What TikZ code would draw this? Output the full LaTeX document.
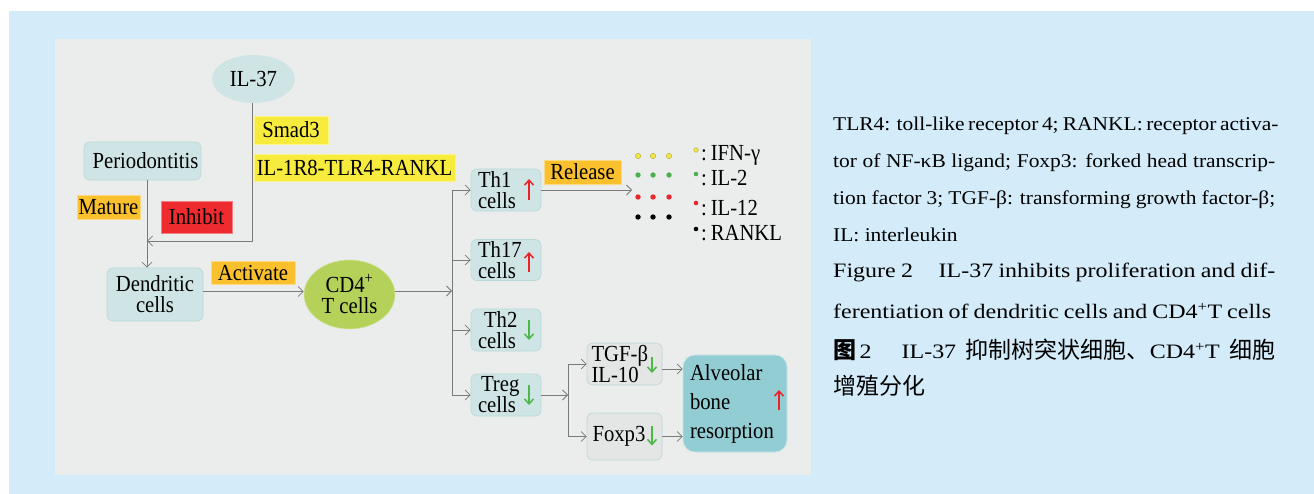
\documentclass[tikz,border=0pt]{standalone}
\usepackage{fontspec}
\setmainfont{Liberation Serif}
\newfontfamily\diag[FakeStretch=0.9]{Liberation Serif}
\newfontfamily\wide[FakeStretch=1.1]{Liberation Serif}
\newfontfamily\wider[FakeStretch=1.17]{Liberation Serif}
\newfontfamily\cjk{Noto Sans CJK SC}
\usetikzlibrary{arrows.meta,calc,shapes.geometric}
\definecolor{bgblue}{HTML}{D4ECF9}
\definecolor{panel}{HTML}{EBECEC}
\definecolor{cellfill}{HTML}{CFE5E5}
\definecolor{cellline}{HTML}{B9D8D8}
\definecolor{ylw}{HTML}{F7EC3E}
\definecolor{orng}{HTML}{FBC02D}
\definecolor{inhred}{HTML}{EE2B2F}
\definecolor{cdgreen}{HTML}{B4D15A}
\definecolor{alv}{HTML}{92CDD3}
\definecolor{greybox}{HTML}{E4E5E5}
\definecolor{upred}{HTML}{EB2227}
\definecolor{dngreen}{HTML}{4CB848}
\definecolor{connc}{HTML}{7A7A7A}
\definecolor{dotyel}{HTML}{EDE54A}
\definecolor{dotyelline}{HTML}{BDB640}
\definecolor{dotgrn}{HTML}{4CB050}
\definecolor{dotred}{HTML}{E8262B}
\tikzset{
  dfont/.style={font=\diag\fontsize{23}{21}\selectfont},
  cell/.style={dfont, draw=cellline, fill=cellfill, rounded corners=6pt, line width=0.6pt, inner sep=0pt},
  greycell/.style={cell, fill=greybox, draw=cellline},
  tag/.style={dfont, inner sep=0pt, line width=0.8pt},
  connline/.style={draw=connc, line width=0.8pt},
  arr/.style={connline, -{Straight Barb[length=5pt,width=10pt]}},
  uparr/.style={draw=upred, line width=1.7pt, -{Straight Barb[length=5pt,width=9pt,line width=1.5pt]}},
  dnarr/.style={draw=dngreen, line width=1.7pt, -{Straight Barb[length=5pt,width=9pt,line width=1.5pt]}},
  notefont/.style={font=\wide\fontsize{19.5}{20}\selectfont, inner sep=0pt, anchor=west},
  capfont/.style={font=\wider\fontsize{20.5}{21}\selectfont, inner sep=0pt, anchor=west}
}
\begin{document}
\begin{tikzpicture}[x=1pt,y=-1pt]
\fill[white] (0,0) rectangle (1314,494);
\useasboundingbox (0,0) rectangle (1314,494);
\fill[bgblue] (9,11) rectangle (1314,494);
\fill[panel] (55,39) rectangle (811,475);

% nodes
\node[ellipse, fill=cellfill, minimum width=83pt, minimum height=48pt, inner sep=0pt, dfont] (il37) at (253.5,79) {IL-37};
\node[tag, fill=ylw, draw=ylw!60!white, minimum width=74pt, minimum height=28pt] (smad) at (291,130) {Smad3};
\node[tag, fill=ylw, draw=ylw!60!white, minimum width=201pt, minimum height=27pt] (il1r8) at (354.5,167.5) {IL-1R8-TLR4-RANKL};
\node[cell, minimum width=117pt, minimum height=38pt] (perio) at (142.5,161) {\hspace{6pt}Periodontitis};
\node[tag, fill=orng, draw=orng!60!white, minimum width=63pt, minimum height=24pt] (mature) at (108.5,207) {Mature};
\node[tag, fill=inhred, draw=inhred!60!white, minimum width=71pt, minimum height=32pt] (inhibit) at (196.5,217) {Inhibit};
\node[cell, minimum width=96pt, minimum height=53pt, align=center] (dend) at (155,294.5) {Dendritic\\cells};
\node[tag, fill=orng, draw=orng!60!white, minimum width=84pt, minimum height=23pt] (activate) at (253,272.5) {Activate};
\node[ellipse, fill=cdgreen, draw=cdgreen!60!white, line width=0.6pt, minimum width=91pt, minimum height=69pt, inner sep=0pt, dfont, align=center] (cd4) at (349.5,294.5) {CD4\textsuperscript{+}\\T cells};

\node[cell, minimum width=70pt, minimum height=42pt, text width=56pt, align=left] (th1) at (506,190) {Th1\\cells};
\node[cell, minimum width=70pt, minimum height=41pt, text width=56pt, align=left] (th17) at (506,260) {Th17\\cells};
\node[cell, minimum width=70pt, minimum height=42pt, text width=56pt, align=left] (th2) at (506,330) {\hspace{6pt}Th2\\cells};
\node[cell, minimum width=70pt, minimum height=42pt, text width=56pt, align=left] (treg) at (506,395) {\hspace{3pt}Treg\\cells};
\node[tag, fill=orng, draw=orng!60!white, minimum width=77pt, minimum height=24pt] (release) at (582.5,172) {Release};

\node[greycell, minimum width=75pt, minimum height=42pt, text width=66pt, align=left] (tgf) at (624.5,364) {TGF-β\\IL-10};
\node[greycell, minimum width=75pt, minimum height=47pt, text width=64pt, align=left] (foxp3) at (624.5,436.5) {Foxp3};
\node[cell, fill=alv, draw=alv!50!white, rounded corners=12pt, minimum width=104pt, minimum height=97pt, text width=90pt, align=left, font=\diag\fontsize{23}{29}\selectfont] (alv) at (735,403.5) {Alveolar\\bone\\resorption};

% connectors
\coordinate (j1) at (147,241);
\draw[arr] (il37.south -| 252,0) |- (j1);
\draw[arr] (perio.south -| j1) -- (dend.north -| j1);
\draw[arr] ([yshift=3pt]dend.east) -- ([yshift=3pt]dend.east -| cd4.west);
\coordinate (trunk) at (452,291);
\draw[arr] (cd4.east |- trunk) -- (trunk);
\draw[connline] (th1.west -| trunk) -- (treg.west -| trunk);
\foreach \n in {th1,th17,th2,treg} \draw[arr] (\n.west -| trunk) -- (\n.west);
\coordinate (rel) at (632,190);
\draw[arr] (th1.east) -- (rel);
\coordinate (tb) at (568,395);
\draw[arr] (treg.east) -- (tb);
\draw[connline] (tgf.west -| tb) -- (foxp3.west -| tb);
\draw[arr] (tgf.west -| tb) -- (tgf.west);
\draw[arr] (foxp3.west -| tb) -- (foxp3.west);
\draw[arr] ([yshift=-5pt]tgf.east) -- ([yshift=-5pt]tgf.east -| alv.west);
\draw[arr] (foxp3.east) -- (foxp3.east -| alv.west);

% up / down arrows
\draw[uparr] ($(th1.center)+(23,10)$) -- ($(th1.center)+(23,-11)$);
\draw[uparr] ($(th17.center)+(23,12)$) -- ($(th17.center)+(23,-8)$);
\draw[dnarr] ($(th2.center)+(23,-10)$) -- ($(th2.center)+(23,10)$);
\draw[dnarr] ($(treg.center)+(23,-10)$) -- ($(treg.center)+(23,10)$);
\draw[dnarr] ($(tgf.center)+(27.5,-7)$) -- ($(tgf.center)+(27.5,9)$);
\draw[dnarr] ($(foxp3.center)+(27.5,-11)$) -- ($(foxp3.center)+(27.5,9)$);
\draw[uparr] ($(alv.center)+(44,6.5)$) -- ($(alv.center)+(44,-13.5)$);

% cytokine dots
\foreach \x in {638,653,669} \filldraw[fill=dotyel, draw=dotyelline, line width=0.5pt] (\x,156) circle (2.7pt);
\foreach \y/\c in {175/dotgrn,197/dotred,217/black}
  \foreach \x in {638,653,669} \fill[\c] (\x,\y) circle (2.7pt);
% legend
\filldraw[fill=dotyel, draw=dotyelline, line width=0.5pt] (696,150) circle (2.3pt);
\foreach \y/\c in {174/dotgrn,203/dotred,229/black} \fill[\c] (696,\y) circle (2.3pt);
\foreach \t/\ty in {IFN-γ/155,IL-2/178,IL-12/208,RANKL/233}
  \node[dfont, inner sep=0pt, anchor=west] (leg\t) at (701,\ty) {:\,\t};

% notes
\node[notefont] (n1) at (833,126) {\makebox[442pt][s]{TLR4: toll-like receptor 4; RANKL: receptor activa-}};
\node[notefont] (n2) at (833,163) {\makebox[442pt][s]{tor of NF-κB ligand; Foxp3: forked head transcrip-}};
\node[notefont] (n3) at (833,200) {\makebox[442pt][s]{tion factor 3; TGF-β: transforming growth factor-β;}};
\node[notefont] (n4) at (833,235) {IL: interleukin};
\node[capfont] (c1) at (833,272) {\makebox[442pt][s]{Figure 2\hspace{1em} IL-37 inhibits proliferation and dif-}};
\node[capfont] (c2) at (833,311) {\makebox[438pt][s]{ferentiation of dendritic cells and CD4\textsuperscript{+}T cells}};
\node[capfont] (c3) at (833,350) {\makebox[442pt][s]{{\cjk\bfseries\fontsize{23}{23}\selectfont 图}\,2\hspace{1em} IL-37 {\cjk\fontsize{23}{23}\selectfont 抑制树突状细胞、}CD4\textsuperscript{+}T {\cjk\fontsize{23}{23}\selectfont 细胞}}};
\node[capfont] (c4) at (833,386) {{\cjk\fontsize{23}{23}\selectfont 增殖分化}};
\end{tikzpicture}
\end{document}
